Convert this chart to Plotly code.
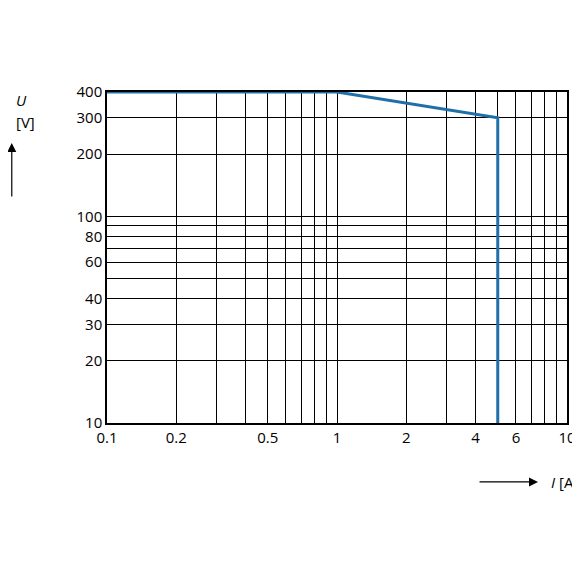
import plotly.graph_objects as go

curve_I = [0.1, 1, 5, 5]
curve_U = [400, 400, 300, 10]

x_grid = [0.1,0.2,0.3,0.4,0.5,0.6,0.7,0.8,0.9,1,2,3,4,5,6,7,8,9,10]
x_labels = {0.1:"0.1",0.2:"0.2",0.5:"0.5",1:"1",2:"2",4:"4",6:"6",10:"10"}
y_grid = [10,20,30,40,50,60,70,80,90,100,200,300,400]
y_labels = {10:"10",20:"20",30:"30",40:"40",60:"60",80:"80",100:"100",200:"200",300:"300",400:"400"}

fig = go.Figure(go.Scatter(x=curve_I, y=curve_U, mode="lines",
                           line=dict(color="#1f6fa8", width=3), showlegend=False))
font = dict(family="Open Sans", size=15, color="black")
fig.update_xaxes(type="log", range=[-1, 1], tickvals=x_grid,
                 ticktext=[x_labels.get(v, "") for v in x_grid],
                 showgrid=True, gridcolor="black", gridwidth=1,
                 showline=True, linecolor="black", linewidth=1.5, mirror=True,
                 ticks="", tickfont=font, zeroline=False)
fig.update_yaxes(type="log", range=[1, 2.60206], tickvals=y_grid,
                 ticktext=[y_labels.get(v, "") for v in y_grid],
                 showgrid=True, gridcolor="black", gridwidth=1,
                 showline=True, linecolor="black", linewidth=1.5, mirror=True,
                 ticks="", tickfont=font, zeroline=False)
ann = [
    dict(x=-0.202, y=1.012, text="<i>U</i>", showarrow=False),
    dict(x=-0.202, y=0.945, text="[V]", showarrow=False),
    dict(x=-0.207, y=0.846, ax=0, ay=55, text="", showarrow=True,
         arrowhead=2, arrowsize=1.5, arrowwidth=1.2, arrowcolor="black"),
    dict(x=0.937, y=-0.178, ax=-60, ay=0, text="", showarrow=True,
         arrowhead=2, arrowsize=1.5, arrowwidth=1.2, arrowcolor="black"),
    dict(x=1.029, y=-0.214, text="<i>I</i> [A]", showarrow=False),
]
for a in ann:
    a.update(xref="paper", yref="paper", font=font)
fig.update_layout(width=580, height=580, margin=dict(l=99, r=21, t=84, b=165),
                  plot_bgcolor="white", paper_bgcolor="white", annotations=ann)
fig.write_html("out.html")
